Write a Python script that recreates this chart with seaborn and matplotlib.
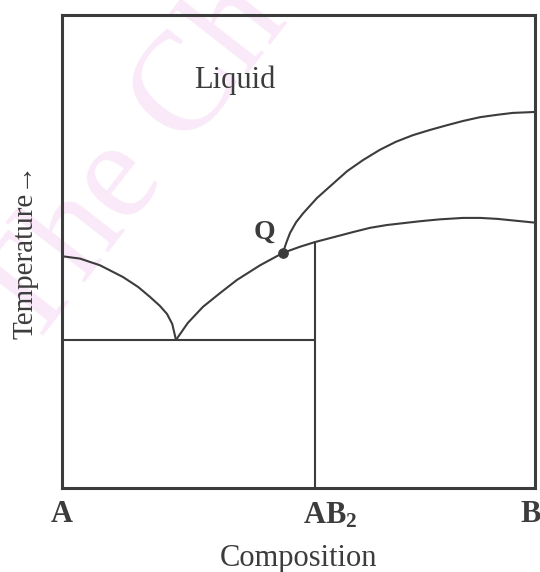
import pandas as pd
import matplotlib
matplotlib.use('Agg')
import matplotlib.pyplot as plt
import matplotlib.transforms as mtransforms
import seaborn as sns

# composition (0 = A, 1 = B) and temperature (arbitrary, 0-100)
solidus_left_x = [0, 0.038, 0.080, 0.129, 0.161, 0.186, 0.207, 0.222, 0.233, 0.241]
solidus_left_y = [49.0, 48.5, 47.1, 44.6, 42.5, 40.4, 38.5, 36.8, 34.7, 31.3]

liquidus_x = [0.241, 0.266, 0.298, 0.334, 0.370, 0.419, 0.467, 0.503, 0.535, 0.577,
              0.615, 0.651, 0.687, 0.757, 0.799, 0.848, 0.884, 0.920, 1.0]
liquidus_y = [31.3, 34.9, 38.3, 41.2, 44.0, 47.1, 49.7, 51.0, 52.0, 53.1,
              54.1, 55.0, 55.6, 56.4, 56.8, 57.1, 57.1, 56.9, 56.1]

upper_x = [0.467, 0.474, 0.482, 0.495, 0.510, 0.539, 0.567, 0.603, 0.636, 0.672,
           0.706, 0.742, 0.778, 0.814, 0.848, 0.884, 0.920, 0.953, 1.0]
upper_y = [49.7, 51.8, 53.9, 56.2, 58.1, 61.3, 63.8, 67.0, 69.3, 71.5,
           73.2, 74.6, 75.7, 76.7, 77.6, 78.4, 78.9, 79.3, 79.5]

eutectic_x = [0, 0.535]
eutectic_y = [31.3, 31.3]
ab2_x = [0.535, 0.535]
ab2_y = [0, 52.0]

q_point = (0.467, 49.7)
tick_pos = [0, 0.535, 1]
tick_labels = ['A', r'$\mathbf{AB_2}$', 'B']

sns.set_style('white')
plt.rcParams['font.family'] = ['Liberation Serif', 'DejaVu Serif']
plt.rcParams['mathtext.fontset'] = 'custom'
plt.rcParams['mathtext.rm'] = 'Liberation Serif'
plt.rcParams['mathtext.bf'] = 'Liberation Serif:bold'

ink = '#3c3c3c'
fig = plt.figure(figsize=(5.4, 5.72), dpi=100)

# faint watermark
fig.text(30 / 540, 1 - 352 / 572, 'The Ch', fontsize=102, color='#fae9f8',
         rotation=52, rotation_mode='anchor', ha='left', va='baseline', zorder=-5)

ax = fig.add_axes([62 / 540, 1 - 488 / 572, 473 / 540, 473 / 572])
ax.patch.set_alpha(0)

lw = 1.5
curves = [(solidus_left_x, solidus_left_y), (liquidus_x, liquidus_y), (upper_x, upper_y),
          (eutectic_x, eutectic_y), (ab2_x, ab2_y)]
for cx, cy in curves:
    sns.lineplot(x=cx, y=cy, color=ink, lw=lw, ax=ax, sort=False, estimator=None)
sns.scatterplot(x=[q_point[0]], y=[q_point[1]], color=ink, s=50, ax=ax, zorder=5, edgecolor=ink)

ax.text(0.429, 54.1, 'Q', fontsize=20, fontweight='bold', color=ink, ha='center', va='center')
ax.text(0.366, 86.3, 'Liquid', fontsize=22, color=ink, ha='center', va='center')

ax.set_xlim(0, 1)
ax.set_ylim(0, 100)
for s in ax.spines.values():
    s.set_color(ink)
    s.set_linewidth(2.2)

ax.set_xticks(tick_pos)
ax.set_xticklabels(tick_labels, fontsize=22, fontweight='bold', color=ink)
ax.tick_params(axis='x', length=0, pad=9)
ax.set_yticks([])
lab = ax.get_xticklabels()[1]
lab.set_transform(lab.get_transform() + mtransforms.ScaledTranslation(15 / 100, 0, fig.dpi_scale_trans))
lab = ax.get_xticklabels()[2]
lab.set_transform(lab.get_transform() + mtransforms.ScaledTranslation(-4 / 100, 0, fig.dpi_scale_trans))

ax.set_xlabel('Composition', fontsize=22, color=ink, labelpad=10)
ax.set_ylabel('Temperature\u2192', fontsize=21, color=ink, labelpad=17)

fig.savefig('out.png', dpi=100)
